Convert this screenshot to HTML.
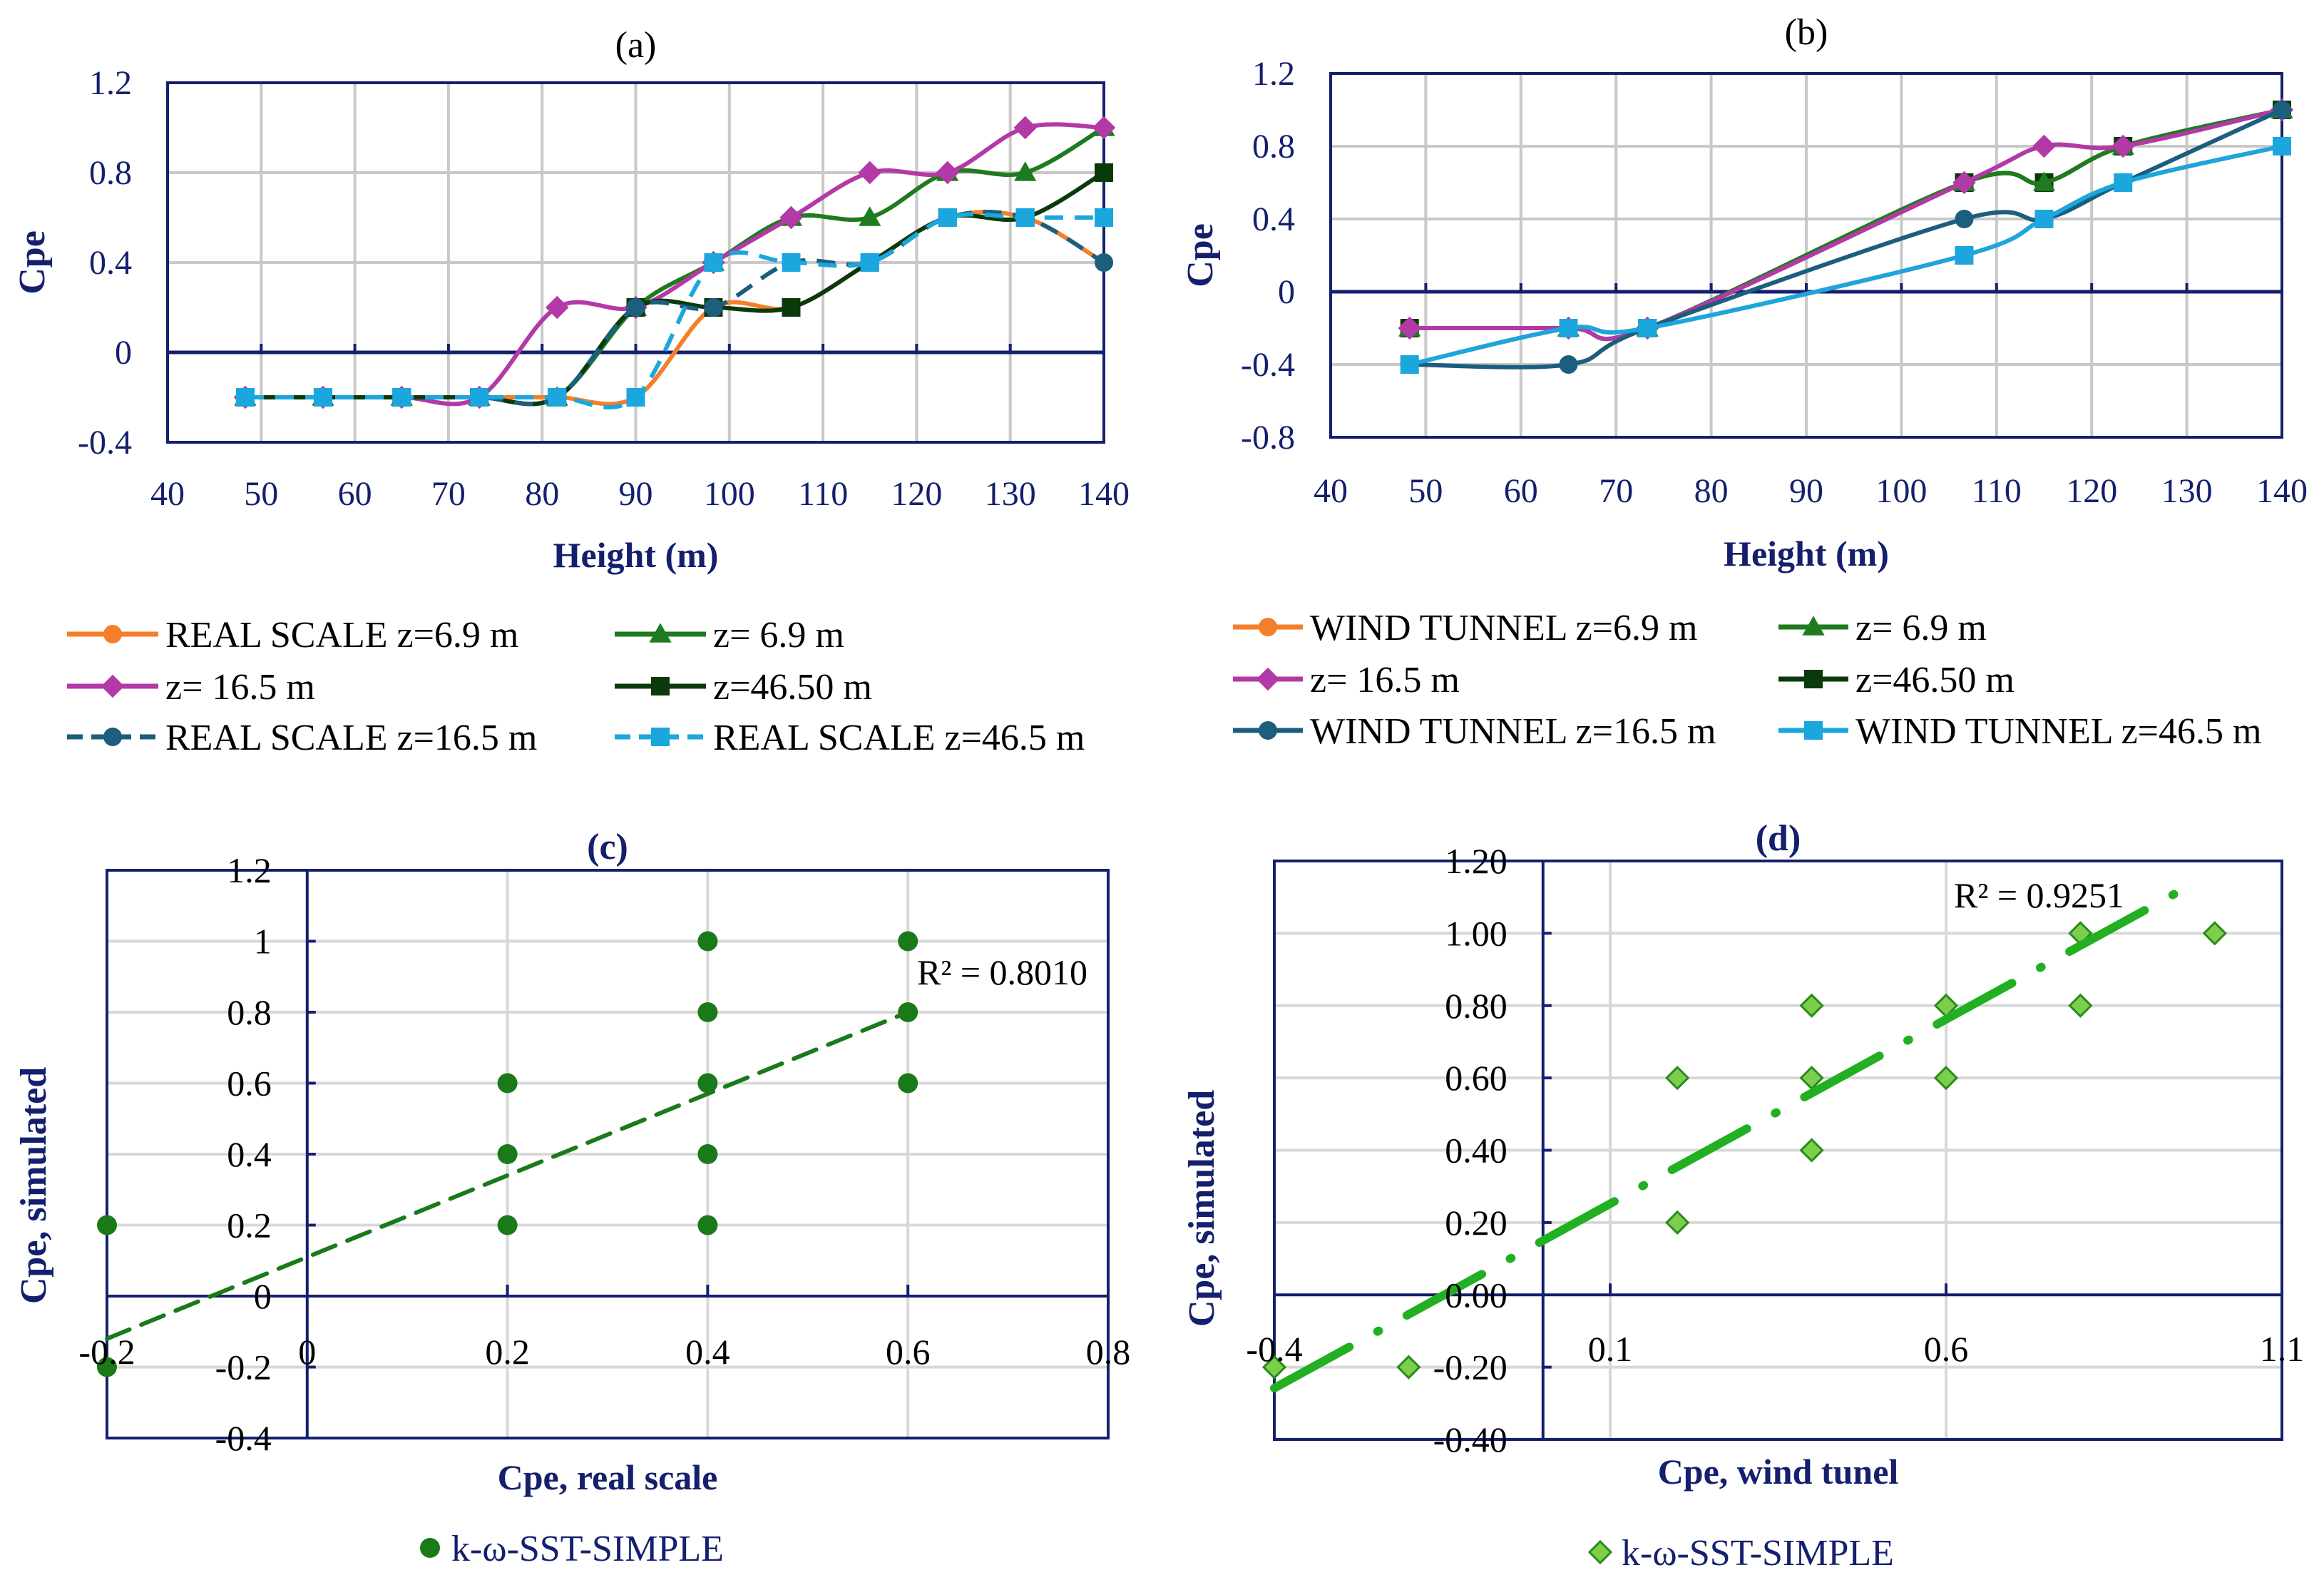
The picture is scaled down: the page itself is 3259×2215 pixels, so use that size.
<!DOCTYPE html>
<html><head><meta charset="utf-8">
<style>
html,body{margin:0;padding:0;background:#fff;}
svg{display:block;font-family:"Liberation Serif",serif;}
</style></head>
<body>
<svg id="fig" width="3259" height="2215" viewBox="0 0 3259 2215" xmlns="http://www.w3.org/2000/svg"></svg>
<script>
// ---- Panel (a) data ----
const aHeights = [48.3, 56.6, 65, 73.3, 81.6, 90, 98.3, 106.6, 115, 123.3, 131.6, 140];
const aRealZ69 = [-0.2,-0.2,-0.2,-0.2,-0.2,-0.2,0.2,0.2,0.4,0.6,0.6,0.4];
const aZ69 = [-0.2,-0.2,-0.2,-0.2,-0.2,0.2,0.4,0.6,0.6,0.8,0.8,1.0];
const aZ165 = [-0.2,-0.2,-0.2,-0.2,0.2,0.2,0.4,0.6,0.8,0.8,1.0,1.0];
const aZ465 = [-0.2,-0.2,-0.2,-0.2,-0.2,0.2,0.2,0.2,0.4,0.6,0.6,0.8];
const aRealZ165 = [-0.2,-0.2,-0.2,-0.2,-0.2,0.2,0.2,0.4,0.4,0.6,0.6,0.4];
const aRealZ465 = [-0.2,-0.2,-0.2,-0.2,-0.2,-0.2,0.4,0.4,0.4,0.6,0.6,0.6];
// ---- Panel (b) data ----
const bHeights = [48.3, 65, 73.3, 106.6, 115, 123.3, 140];
const bWtZ69 = [-0.4,-0.2,-0.2,0.2,0.4,0.6,0.8];
const bZ69 = [-0.2,-0.2,-0.2,0.6,0.6,0.8,1.0];
const bZ165 = [-0.2,-0.2,-0.2,0.6,0.8,0.8,1.0];
const bZ465 = [-0.2,-0.2,-0.2,0.6,0.6,0.8,1.0];
const bWtZ165 = [-0.4,-0.4,-0.2,0.4,0.4,0.6,1.0];
const bWtZ465 = [-0.4,-0.2,-0.2,0.2,0.4,0.6,0.8];
const xTicksH = [40,50,60,70,80,90,100,110,120,130,140];
const aYTicks = [1.2,0.8,0.4,0,-0.4];
const bYTicks = [1.2,0.8,0.4,0,-0.4,-0.8];
// ---- Panel (c) data ----
const cX = [-0.2,-0.2,0.2,0.2,0.2,0.4,0.4,0.4,0.4,0.4,0.6,0.6,0.6];
const cY = [0.2,-0.2,0.6,0.4,0.2,1.0,0.8,0.6,0.4,0.2,1.0,0.8,0.6];
const cTrend = [1.15, 0.11];
const cXTicks = [-0.2,0,0.2,0.4,0.6,0.8];
const cYTicks = [1.2,1,0.8,0.6,0.4,0.2,0,-0.2,-0.4];
// ---- Panel (d) data ----
const dX = [-0.4,-0.2,0.2,0.2,0.4,0.4,0.4,0.6,0.6,0.8,0.8,1.0];
const dY = [-0.2,-0.2,0.6,0.2,0.8,0.6,0.4,0.8,0.6,1.0,0.8,1.0];
const dTrend = [1.02, 0.15];
const dXTicks = [-0.4,0.1,0.6,1.1];
const dYTicks = [1.2,1.0,0.8,0.6,0.4,0.2,0,-0.2,-0.4];

const NS = "http://www.w3.org/2000/svg";
const svg = document.getElementById('fig');
const NAVY = "#14206e", GRID = "#c8c8c8";
function mk(tag, attrs, parent){
  const e = document.createElementNS(NS, tag);
  for (const k in attrs) e.setAttribute(k, attrs[k]);
  (parent||svg).appendChild(e);
  return e;
}
function txt(s, x, y, size, opts, name){
  const t = mk('text', Object.assign({x:x, y:y, 'font-size':size, fill:NAVY}, opts||{}));
  t.textContent = s;
  
  
  return t;
}
function spline(pts){
  let d = "M"+pts[0][0]+","+pts[0][1];
  for (let i=0;i<pts.length-1;i++){
    const p0=pts[Math.max(0,i-1)], p1=pts[i], p2=pts[i+1], p3=pts[Math.min(pts.length-1,i+2)];
    const t=0.5/3;
    const c1=[p1[0]+(p2[0]-p0[0])*t, p1[1]+(p2[1]-p0[1])*t];
    const c2=[p2[0]-(p3[0]-p1[0])*t, p2[1]-(p3[1]-p1[1])*t];
    d += " C"+c1[0]+","+c1[1]+" "+c2[0]+","+c2[1]+" "+p2[0]+","+p2[1];
  }
  return d;
}
function marker(type, x, y, color, g, s){
  s = s||13;
  let e;
  if (type==='circle') e = mk('circle',{cx:x,cy:y,r:s,fill:color},g);
  else if (type==='square') e = mk('rect',{x:x-s,y:y-s,width:2*s,height:2*s,fill:color},g);
  else if (type==='diamond') e = mk('polygon',{points:`${x},${y-s*1.25} ${x+s*1.25},${y} ${x},${y+s*1.25} ${x-s*1.25},${y}`,fill:color},g);
  else if (type==='triangle') e = mk('polygon',{points:`${x},${y-s*1.2} ${x+s*1.2},${y+s*0.9} ${x-s*1.2},${y+s*0.9}`,fill:color},g);
  return e;
}

function lineChart(cfg){
  const {L,R,T,B,yMin,yMax,xMin,xMax} = cfg;
  const sx = v => L + (v-xMin)/(xMax-xMin)*(R-L);
  const sy = v => B - (v-yMin)/(yMax-yMin)*(B-T);
  const g = mk('g',{});
  
  
  for (let v=50; v<xMax; v+=10){
    const l = mk('line',{x1:sx(v),x2:sx(v),y1:T,y2:B,stroke:GRID,'stroke-width':4},g);
    
    
  }
  cfg.yTicks.forEach(v=>{
    if (v===0 || v===yMax || v===yMin) return;
    const l = mk('line',{x1:L,x2:R,y1:sy(v),y2:sy(v),stroke:GRID,'stroke-width':4},g);
    
    
  });
  const frame = mk('rect',{x:L,y:T,width:R-L,height:B-T,fill:'none',stroke:NAVY,'stroke-width':4},g);
  
  
  const zl = mk('line',{x1:L,x2:R,y1:sy(0),y2:sy(0),stroke:NAVY,'stroke-width':5},g);
  
  
  for (let v=50; v<=xMax; v+=10){
    const tk = mk('line',{x1:sx(v),x2:sx(v),y1:sy(0)-12,y2:sy(0),stroke:NAVY,'stroke-width':4},g);
    
    
  }
  cfg.yTicks.forEach(v=>{
    txt(String(v), L-50, sy(v)+16, 48, {'text-anchor':'end'}, 'y-tick-label');
  });
  xTicksH.forEach(v=>{
    txt(String(v), sx(v), cfg.xLabY, 48, {'text-anchor':'middle'}, 'x-tick-label');
  });
  const order = cfg.drawOrder || cfg.series.map((s,i)=>i);
  order.forEach(idx=>{
    const s = cfg.series[idx];
    const sg = mk('g',{},g);
    
    
    const pts = s.values.map((v,i)=>[sx(cfg.xs[i]), sy(v)]);
    const p = mk('path',{d:spline(pts),fill:'none',stroke:s.color,'stroke-width':6,'stroke-dasharray':s.dash||'none','stroke-linecap':'butt'},sg);
    
    
    pts.forEach(pt=>{
      const m = marker(s.marker, pt[0], pt[1], s.color, sg);
      
      
    });
  });
  txt(cfg.title, (L+R)/2, cfg.titleY, 52, {'text-anchor':'middle',fill:'#000'}, 'panel-title');
  txt('Height (m)', (L+R)/2, cfg.xTitleY, 50, {'text-anchor':'middle','font-weight':'bold'}, 'x-axis-title');
  txt('Cpe', 0, 0, 52, {'text-anchor':'middle','font-weight':'bold',transform:`translate(${cfg.yTitleX},${(T+B)/2}) rotate(-90)`}, 'y-axis-title');
  cfg.series.forEach((s,i)=>{
    const col = i%2, row = Math.floor(i/2);
    const lx = cfg.legX[col], ly = cfg.legY[row];
    const lg = mk('g',{},g);
    
    
    const ln = mk('line',{x1:lx,x2:lx+cfg.legW,y1:ly,y2:ly,stroke:s.color,'stroke-width':7,'stroke-dasharray':s.dash?'22,12':'none'},lg);
    
    
    const m = marker(s.marker, lx+cfg.legW/2, ly, s.color, lg, 13);
    
    
    txt(s.label, lx+cfg.legW+10, ly+18, 52, {fill:'#000'}, 'legend-label');
  });
}

lineChart({name:'chart-a', L:235, R:1548, T:116, B:620, xMin:40, xMax:140, yMin:-0.4, yMax:1.2,
  yTicks:aYTicks, xs:aHeights, xLabY:708, title:'(a)', titleY:80, xTitleY:795, yTitleX:62,
  legX:[94,862], legY:[889,962,1033], legW:128,
  series:[
    {name:'series-real-scale-z6-9', label:'REAL SCALE z=6.9 m', values:aRealZ69, color:'#f47f2a', marker:'circle'},
    {name:'series-z6-9', label:'z= 6.9 m', values:aZ69, color:'#1e7b1e', marker:'triangle'},
    {name:'series-z16-5', label:'z= 16.5 m', values:aZ165, color:'#b33aa6', marker:'diamond'},
    {name:'series-z46-50', label:'z=46.50 m', values:aZ465, color:'#0a3a0a', marker:'square'},
    {name:'series-real-scale-z16-5', label:'REAL SCALE z=16.5 m', values:aRealZ165, color:'#1b5e7e', marker:'circle', dash:'26,16'},
    {name:'series-real-scale-z46-5', label:'REAL SCALE z=46.5 m', values:aRealZ465, color:'#1ba6de', marker:'square', dash:'26,16'}
  ]});

lineChart({name:'chart-b', L:1866, R:3200, T:103, B:613, xMin:40, xMax:140, yMin:-0.8, yMax:1.2,
  yTicks:bYTicks, xs:bHeights, xLabY:704, title:'(b)', titleY:62, xTitleY:793, yTitleX:1700,
  legX:[1729,2494], legY:[879,952,1024], legW:98, drawOrder:[0,3,1,2,4,5],
  series:[
    {name:'series-wind-tunnel-z6-9', label:'WIND TUNNEL z=6.9 m', values:bWtZ69, color:'#f47f2a', marker:'circle'},
    {name:'series-z6-9', label:'z= 6.9 m', values:bZ69, color:'#1e7b1e', marker:'triangle'},
    {name:'series-z16-5', label:'z= 16.5 m', values:bZ165, color:'#b33aa6', marker:'diamond'},
    {name:'series-z46-50', label:'z=46.50 m', values:bZ465, color:'#0a3a0a', marker:'square'},
    {name:'series-wind-tunnel-z16-5', label:'WIND TUNNEL z=16.5 m', values:bWtZ165, color:'#1b5e7e', marker:'circle'},
    {name:'series-wind-tunnel-z46-5', label:'WIND TUNNEL z=46.5 m', values:bWtZ465, color:'#1ba6de', marker:'square'}
  ]});

function scatter(cfg){
  const {L,R,T,B,xMin,xMax,yMin,yMax} = cfg;
  const sx = v => L + (v-xMin)/(xMax-xMin)*(R-L);
  const sy = v => B - (v-yMin)/(yMax-yMin)*(B-T);
  const g = mk('g',{});
  
  
  cfg.gridX.forEach(v=>{
    const l = mk('line',{x1:sx(v),x2:sx(v),y1:T,y2:B,stroke:'#d8d8d8','stroke-width':4},g);
    
    
    const tk = mk('line',{x1:sx(v),x2:sx(v),y1:sy(0)-16,y2:sy(0),stroke:NAVY,'stroke-width':4},g);
    
    
  });
  cfg.yTicks.forEach(v=>{
    if (v===0 || v===yMax || v===yMin) return;
    const l = mk('line',{x1:L,x2:R,y1:sy(v),y2:sy(v),stroke:'#d8d8d8','stroke-width':4},g);
    
    
    const tk = mk('line',{x1:sx(0),x2:sx(0)+12,y1:sy(v),y2:sy(v),stroke:NAVY,'stroke-width':4},g);
    
    
  });
  const frame = mk('rect',{x:L,y:T,width:R-L,height:B-T,fill:'none',stroke:NAVY,'stroke-width':4},g);
  
  
  const xa = mk('line',{x1:L,x2:R,y1:sy(0),y2:sy(0),stroke:NAVY,'stroke-width':4},g);
  
  
  const ya = mk('line',{x1:sx(0),x2:sx(0),y1:T,y2:B,stroke:NAVY,'stroke-width':4},g);
  
  
  cfg.yTicks.forEach(v=>{
    txt(cfg.yFmt(v), sx(0)-50, sy(v)+17, 50, {'text-anchor':'end',fill:'#000'}, 'y-tick-label');
  });
  cfg.xTicks.forEach(v=>{
    txt(String(v), sx(v), cfg.xLabY, 50, {'text-anchor':'middle',fill:'#000'}, 'x-tick-label');
  });
  const sg = mk('g',{},g);
  
  
  cfg.xs.forEach((x,i)=>{
    const m = marker(cfg.marker, sx(x), sy(cfg.ys[i]), cfg.color, sg, cfg.ms);
    if (cfg.stroke){ m.setAttribute('stroke', cfg.stroke); m.setAttribute('stroke-width', 3); }
    
    
  });
  const [m, b] = cfg.trend;
  const tl = mk('line',{x1:sx(xMin),y1:sy(m*xMin+b),x2:sx(cfg.trendEnd),y2:sy(m*cfg.trendEnd+b),stroke:cfg.trendColor,'stroke-width':cfg.trendW,'stroke-dasharray':cfg.trendDash,'stroke-linecap':'round'},g);
  
  
  txt(cfg.r2, cfg.r2X, cfg.r2Y, 50, {fill:'#000'}, 'r-squared-label');
  txt(cfg.title, (L+R)/2, cfg.titleY, 52, {'text-anchor':'middle','font-weight':'bold'}, 'panel-title');
  txt(cfg.xTitle, (L+R)/2, cfg.xTitleY, 50, {'text-anchor':'middle','font-weight':'bold'}, 'x-axis-title');
  txt('Cpe, simulated', 0, 0, 52, {'text-anchor':'middle','font-weight':'bold',transform:`translate(${cfg.yTitleX},${cfg.yTitleY}) rotate(-90)`}, 'y-axis-title');
  const lg = mk('g',{},g);
  
  
  const lm = marker(cfg.marker, cfg.legX, cfg.legY, cfg.color, lg, cfg.ms);
  if (cfg.stroke){ lm.setAttribute('stroke', cfg.stroke); lm.setAttribute('stroke-width', 3); }
  
  
  txt('k-ω-SST-SIMPLE', cfg.legX+30, cfg.legY+18, 52, {fill:NAVY}, 'legend-label');
}

scatter({name:'chart-c', L:150, R:1554, T:1220, B:2016, xMin:-0.2, xMax:0.8, yMin:-0.4, yMax:1.2,
  xs:cX, ys:cY, trend:cTrend, trendEnd:0.6, xTicks:cXTicks, yTicks:cYTicks, gridX:[0.2,0.4,0.6],
  yFmt:v=>String(v), xLabY:1912, marker:'circle', color:'#1a7a1a', ms:14,
  trendColor:'#1a7a1a', trendW:6, trendDash:'34,18',
  r2:'R² = 0.8010', r2X:1286, r2Y:1380, title:'(c)', titleY:1204, xTitle:'Cpe, real scale', xTitleY:2088,
  yTitleX:64, yTitleY:1662, legX:603, legY:2170});

scatter({name:'chart-d', L:1787, R:3200, T:1207, B:2018, xMin:-0.4, xMax:1.1, yMin:-0.4, yMax:1.2,
  xs:dX, ys:dY, trend:dTrend, trendEnd:0.95, xTicks:dXTicks, yTicks:dYTicks, gridX:[0.1,0.6],
  yFmt:v=>v.toFixed(2), xLabY:1908, marker:'diamond', color:'#7ccf4c', stroke:'#2a8a1a', ms:12,
  trendColor:'#22b022', trendW:12, trendDash:'120,45,2,45',
  r2:'R² = 0.9251', r2X:2740, r2Y:1272, title:'(d)', titleY:1192, xTitle:'Cpe, wind tunel', xTitleY:2080,
  yTitleX:1702, yTitleY:1694, legX:2244, legY:2176});
</script>
</body></html>
